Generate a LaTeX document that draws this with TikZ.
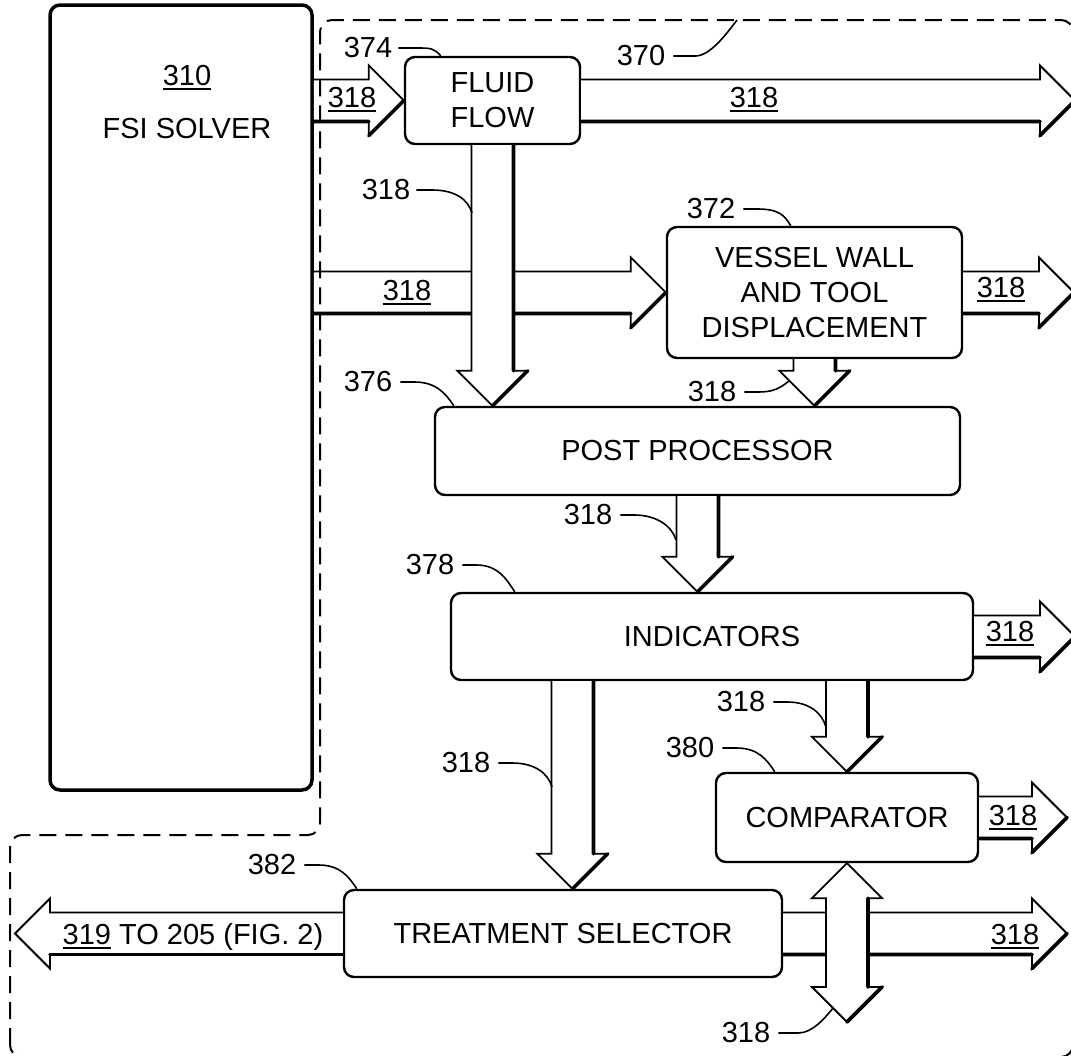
\documentclass[tikz,border=0pt]{standalone}
\usepackage{fontspec}
\setmainfont{Liberation Sans}
\usetikzlibrary{calc}
\tikzset{
  block/.style={draw, line width=2.4pt, rounded corners=10pt, inner sep=0pt, align=center},
  fatarrow/.style={draw, fill=white, line width=1.8pt, line join=miter},
  fatshade/.style={line width=3.6pt, line cap=round},
  leader/.style={line width=1.6pt},
  tag/.style={inner sep=0pt},
  outline/.style={line width=2pt, dash pattern=on 17pt off 9pt, rounded corners=12pt},
}
\newcommand{\refnum}[1]{\setbox0\hbox{#1}\rlap{\rule[-4.5pt]{\wd0}{2pt}}\box0\relax}
\def\bodyw{21pt}
\def\headw{35pt}
\def\headl{35pt}
% wide block arrows, shaded on the lower/right side
\newcommand{\fatright}[2]{%
  \draw[fatarrow] let \p1=(#1), \p2=(#2) in
    (\x1,\y2+\bodyw) -- (\x2-\headl,\y2+\bodyw) -- (\x2-\headl,\y2+\headw)
    -- (\x2,\y2) -- (\x2-\headl,\y2-\headw) -- (\x2-\headl,\y2-\bodyw) -- (\x1,\y2-\bodyw);
  \draw[fatshade] let \p1=(#1), \p2=(#2) in
    (\x1,\y2-\bodyw) -- (\x2-\headl,\y2-\bodyw) (\x2-\headl,\y2-\headw) -- (\x2,\y2);}
\newcommand{\fatleft}[2]{%
  \draw[fatarrow] let \p1=(#1), \p2=(#2) in
    (\x1,\y2+\bodyw) -- (\x2+\headl,\y2+\bodyw) -- (\x2+\headl,\y2+\headw)
    -- (\x2,\y2) -- (\x2+\headl,\y2-\headw) -- (\x2+\headl,\y2-\bodyw) -- (\x1,\y2-\bodyw);
  \draw[fatshade] let \p1=(#1), \p2=(#2) in
    (\x2+\headl,\y2-\bodyw) -- (\x1,\y2-\bodyw);}
\newcommand{\fatdown}[2]{%
  \draw[fatarrow] let \p1=(#1), \p2=(#2) in
    (\x2-\bodyw,\y1) -- (\x2-\bodyw,\y2+\headl) -- (\x2-\headw,\y2+\headl)
    -- (\x2,\y2) -- (\x2+\headw,\y2+\headl) -- (\x2+\bodyw,\y2+\headl) -- (\x2+\bodyw,\y1);
  \draw[fatshade] let \p1=(#1), \p2=(#2) in
    (\x2+\bodyw,\y1) -- (\x2+\bodyw,\y2+\headl) (\x2,\y2) -- (\x2+\headw,\y2+\headl);}
\newcommand{\fatboth}[2]{%
  \draw[fatarrow] let \p1=(#1), \p2=(#2) in
    (\x1,\y1) -- (\x1+\headw,\y1-\headl) -- (\x1+\bodyw,\y1-\headl) -- (\x1+\bodyw,\y2+\headl)
    -- (\x1+\headw,\y2+\headl) -- (\x1,\y2) -- (\x1-\headw,\y2+\headl) -- (\x1-\bodyw,\y2+\headl)
    -- (\x1-\bodyw,\y1-\headl) -- (\x1-\headw,\y1-\headl) -- cycle;
  \draw[fatshade] let \p1=(#1), \p2=(#2) in
    (\x1+\bodyw,\y1-\headl) -- (\x1+\bodyw,\y2+\headl) (\x1,\y2) -- (\x1+\headw,\y2+\headl);}
\begin{document}
\begin{tikzpicture}
\begin{scope}[x=1pt, y=-1pt, font=\fontsize{29}{35}\selectfont]
  \useasboundingbox (0,0) rectangle (1071,1055);
  % Blocks
  \node[block, line width=3.5pt, minimum width=262pt, minimum height=785pt] (fsi) at (181,397.5) {};
  \node[tag] (fsinum) at (187,78) {\refnum{310}};
  \node[tag] (fsiname) at (187,129) {FSI SOLVER};
  \node[block, minimum width=175pt, minimum height=87pt] (flow) at (492.5,100.5) {FLUID\\FLOW};
  \node[block, minimum width=295pt, minimum height=131pt] (vessel) at (814.5,292.5) {VESSEL WALL\\AND TOOL\\DISPLACEMENT};
  \node[block, minimum width=525pt, minimum height=88pt] (post) at (697.5,451) {POST PROCESSOR};
  \node[block, minimum width=522pt, minimum height=87pt] (ind) at (712,636.5) {INDICATORS};
  \node[block, minimum width=262pt, minimum height=89pt] (comp) at (847,817.5) {COMPARATOR};
  \node[block, minimum width=438pt, minimum height=87pt] (treat) at (563,933.5) {TREATMENT SELECTOR};
  % Free ends
  \coordinate (flowout) at (1075,100.5);
  \coordinate (vesselout) at (1074,292.5);
  \coordinate (indout) at (1075,636.5);
  \coordinate (compout) at (1067,817.5);
  \coordinate (treatout) at (1067,933.5);
  \coordinate (treatback) at (15,933.5);
  \coordinate (compbus) at (847,1022);
  % Horizontal arrows
  \fatright{fsi.east |- flow.west}{flow.west}
  \fatright{flow.east}{flowout}
  \fatright{fsi.east |- vessel.west}{vessel.west}
  \fatright{vessel.east}{vesselout}
  \fatright{ind.east}{indout}
  \fatright{comp.east}{compout}
  \fatright{treat.east}{treatout}
  \fatleft{treat.west}{treatback}
  % Vertical arrows
  \fatdown{flow.south}{flow.south |- post.north}
  \fatdown{vessel.south}{vessel.south |- post.north}
  \fatdown{post.south}{post.south |- ind.north}
  \fatdown{ind.south -| comp.north}{comp.north}
  \fatdown{ind.south}{[xshift=9.5pt]treat.north}
  \fatboth{comp.south}{compbus}
  % Arrow labels
  \node[tag] (b1) at (352,100) {\refnum{318}};
  \node[tag] (b2) at (754,100) {\refnum{318}};
  \node[tag] (b3) at (407,293) {\refnum{318}};
  \node[tag] (b4) at (1001,290) {\refnum{318}};
  \node[tag] (b5) at (1010,634) {\refnum{318}};
  \node[tag] (b6) at (1013,818) {\refnum{318}};
  \node[tag] (b7) at (1015,937) {\refnum{318}};
  \node[tag] (b8) at (193,937) {\refnum{319} TO 205 (FIG. 2)};
  % Dashed outline 370
  \draw[outline] (10,1057) -- (10,835) -- (320,835) -- (320,20) -- (1073,20) -- (1073,1057) -- cycle;
  % Leader lines
  \coordinate (dash370) at (737,20);
  \coordinate (lf318) at (472,213);
  \coordinate (lv318) at (789,381);
  \coordinate (lp318) at (676,540);
  \coordinate (lc318) at (826,727);
  \coordinate (lt318) at (552,787);
  \coordinate (lb318) at (833,1008);
  \node[tag] (n374) at (368,48) {374};
  \draw[leader] ([xshift=6pt]n374.east) -- ++(14,0) .. controls +(20,0) and +(-8,-8) .. ([xshift=37pt]flow.north west);
  \node[tag] (n370) at (641,56) {370};
  \draw[leader] ([xshift=8pt]n370.east) -- ++(22,0) .. controls +(14,0) and +(-12,16) .. (dash370);
  \node[tag] (n318a) at (386,190) {318};
  \draw[leader] ([xshift=6pt]n318a.east) -- ++(16,0) .. controls +(22,0) and +(-4,-14) .. (lf318);
  \node[tag] (n372) at (711,209) {372};
  \draw[leader] ([xshift=8pt]n372.east) -- ++(14,0) .. controls +(22,0) and +(-6,-10) .. ([xshift=125pt]vessel.north west);
  \node[tag] (n376) at (368,382) {376};
  \draw[leader] ([xshift=8pt]n376.east) -- ++(14,0) .. controls +(22,0) and +(-8,-12) .. ([xshift=20pt]post.north west);
  \node[tag] (n318b) at (712,392) {318};
  \draw[leader] ([xshift=8pt]n318b.east) -- ++(14,0) .. controls +(14,0) and +(-10,8) .. (lv318);
  \node[tag] (n318c) at (588,515) {318};
  \draw[leader] ([xshift=8pt]n318c.east) -- ++(14,0) .. controls +(22,0) and +(-4,-14) .. (lp318);
  \node[tag] (n378) at (430,565) {378};
  \draw[leader] ([xshift=8pt]n378.east) -- ++(14,0) .. controls +(22,0) and +(-8,-12) .. ([xshift=65pt]ind.north west);
  \node[tag] (n318d) at (741,702) {318};
  \draw[leader] ([xshift=8pt]n318d.east) -- ++(14,0) .. controls +(22,0) and +(-4,-14) .. (lc318);
  \node[tag] (n380) at (690,748) {380};
  \draw[leader] ([xshift=8pt]n380.east) -- ++(14,0) .. controls +(22,0) and +(-8,-12) .. ([xshift=60pt]comp.north west);
  \node[tag] (n318e) at (466,763) {318};
  \draw[leader] ([xshift=8pt]n318e.east) -- ++(14,0) .. controls +(22,0) and +(-4,-14) .. (lt318);
  \node[tag] (n382) at (272,865) {382};
  \draw[leader] ([xshift=8pt]n382.east) -- ++(14,0) .. controls +(22,0) and +(-8,-12) .. ([xshift=14pt]treat.north west);
  \node[tag] (n318f) at (746,1033) {318};
  \draw[leader] ([xshift=8pt]n318f.east) -- ++(20,0) .. controls +(14,0) and +(-8,10) .. (lb318);
\end{scope}
\end{tikzpicture}
\end{document}
